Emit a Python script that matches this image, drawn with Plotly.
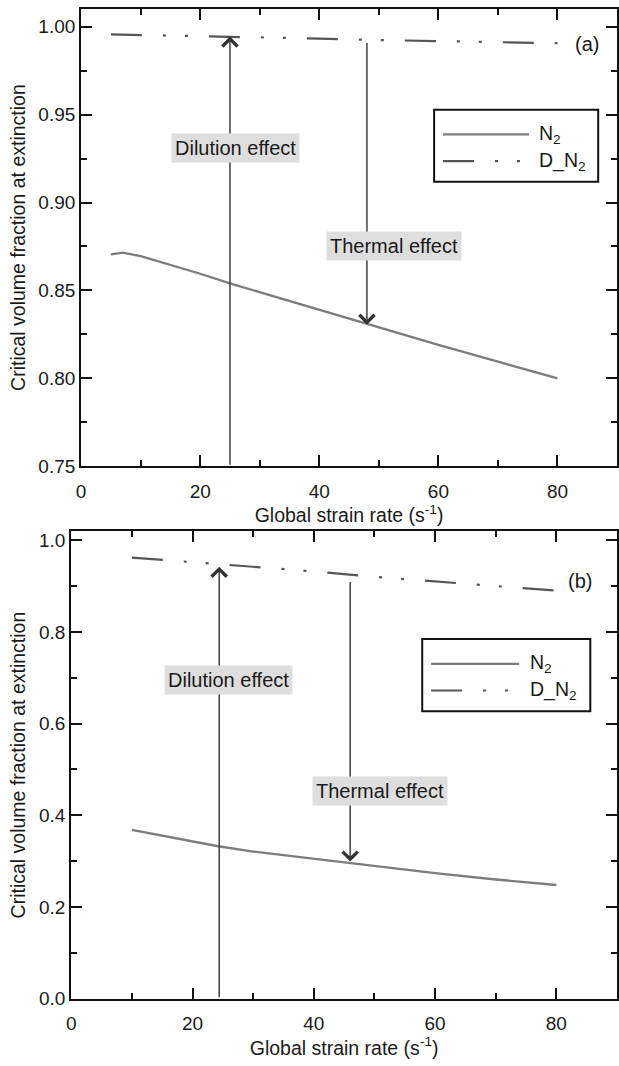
import plotly.graph_objects as go

# ---- data ----
a_x_n2 = [5, 7, 10, 15, 20, 25, 30, 40, 50, 60, 70, 80]
a_y_n2 = [0.8705, 0.8715, 0.8695, 0.8645, 0.8595, 0.8540, 0.8490, 0.8390, 0.8290, 0.8190, 0.8095, 0.8000]
a_x_dn2 = [5, 10, 20, 30, 40, 50, 60, 70, 80]
a_y_dn2 = [0.9956, 0.9953, 0.9947, 0.9940, 0.9932, 0.9924, 0.9918, 0.9912, 0.9906]

b_x_n2 = [10, 20, 24, 30, 40, 46, 50, 60, 70, 80]
b_y_n2 = [0.368, 0.343, 0.333, 0.321, 0.305, 0.297, 0.290, 0.274, 0.260, 0.248]
b_x_dn2 = [10, 20, 30, 40, 50, 60, 70, 80]
b_y_dn2 = [0.962, 0.952, 0.942, 0.932, 0.920, 0.910, 0.901, 0.890]

series_names = ["N<sub>2</sub>", "D_N<sub>2</sub>"]
x_title = "Global strain rate (s<sup>-1</sup>)"
y_title = "Critical volume fraction at extinction"
panel_labels = ["(a)", "(b)"]

FONT = "Liberation Sans, Arial, sans-serif"
N2_COLOR = "#7c7c7c"
DN2_COLOR = "#555555"
DASH = "31px,21px,3px,19px,3px,21px"
ARROW_COLOR = "#333333"
BOX_BG = "#dedede"
TXT = "#1a1a1a"

fig = go.Figure()
fig.add_trace(go.Scatter(x=a_x_n2, y=a_y_n2, mode="lines", name=series_names[0],
                         line=dict(color=N2_COLOR, width=2.3), xaxis="x", yaxis="y", showlegend=False))
fig.add_trace(go.Scatter(x=a_x_dn2, y=a_y_dn2, mode="lines", name=series_names[1],
                         line=dict(color=DN2_COLOR, width=2.2, dash=DASH), xaxis="x", yaxis="y", showlegend=False))
fig.add_trace(go.Scatter(x=b_x_n2, y=b_y_n2, mode="lines", name=series_names[0],
                         line=dict(color=N2_COLOR, width=2.3), xaxis="x2", yaxis="y2", showlegend=False))
fig.add_trace(go.Scatter(x=b_x_dn2, y=b_y_dn2, mode="lines", name=series_names[1],
                         line=dict(color=DN2_COLOR, width=2.2, dash=DASH), xaxis="x2", yaxis="y2", showlegend=False))

axis_common = dict(
    showline=True, linecolor="#111", linewidth=2, mirror="allticks",
    ticks="inside", ticklen=11, tickwidth=2, tickcolor="#111",
    showgrid=False, zeroline=False,
    tickfont=dict(family=FONT, size=19, color=TXT),
)

def xaxis(domain, anchor):
    d = dict(axis_common)
    d.update(domain=domain, anchor=anchor, range=[0, 90], dtick=20, tick0=0,
             ticklabelstandoff=7,
             minor=dict(ticks="inside", ticklen=6, tickwidth=2, tickcolor="#111", dtick=10, tick0=0),
             title=dict(text=x_title, font=dict(family=FONT, size=19.5, color=TXT), standoff=4))
    return d

def yaxis(domain, anchor, rng, dtick, minor_dtick, fmt, standoff):
    d = dict(axis_common)
    d.update(domain=domain, anchor=anchor, range=rng, dtick=dtick, tick0=0, tickformat=fmt,
             minor=dict(ticks="inside", ticklen=6, tickwidth=2, tickcolor="#111", dtick=minor_dtick, tick0=0),
             title=dict(text=y_title, font=dict(family=FONT, size=19.5, color=TXT), standoff=standoff))
    return d

fig.update_layout(
    width=619, height=1066,
    margin=dict(l=0, r=0, t=0, b=0),
    paper_bgcolor="white", plot_bgcolor="white",
    font=dict(family=FONT, color=TXT),
    xaxis=xaxis([77 / 619, 1.0], "y"),
    yaxis=yaxis([1 - 470 / 1066, 1 - 7 / 1066], "x", [0.75, 1.0101], 0.05, 0.025, ".2f", 8),
    xaxis2=xaxis([67 / 619, 1.0], "y2"),
    yaxis2=yaxis([1 - 1009 / 1066, 1 - 536 / 1066], "x2", [0, 1.019], 0.2, 0.1, ".1f", 8),
)

annotations = []
# arrows (drawn first so label boxes sit on top)
arrows = [
    ("x", "y", 25, 0.9944, 25, 0.75),
    ("x", "y", 48, 0.8305, 48, 0.9916),
    ("x2", "y2", 24.4, 0.942, 24.4, 0.0),
    ("x2", "y2", 46, 0.299, 46, 0.912),
]
for xr, yr, x, y, ax, ay in arrows:
    annotations.append(dict(xref=xr, yref=yr, x=x, y=y, axref=xr, ayref=yr, ax=ax, ay=ay,
                            text="", showarrow=True, arrowhead=4, arrowsize=2.1, arrowwidth=1.4,
                            arrowcolor=ARROW_COLOR))
labels = [
    ("x", "y", 25.9, 0.931, "Dilution effect"),
    ("x", "y", 52.5, 0.8753, "Thermal effect"),
    ("x2", "y2", 25.9, 0.695, "Dilution effect"),
    ("x2", "y2", 50.9, 0.454, "Thermal effect"),
]
for xr, yr, x, y, t in labels:
    annotations.append(dict(xref=xr, yref=yr, x=x, y=y, text=t, showarrow=False,
                            bgcolor=BOX_BG, borderpad=3,
                            font=dict(family=FONT, size=20, color=TXT)))
annotations.append(dict(xref="x", yref="y", x=84.9, y=0.990, text=panel_labels[0], showarrow=False,
                        font=dict(family=FONT, size=20, color=TXT)))
annotations.append(dict(xref="x2", yref="y2", x=83.9, y=0.910, text=panel_labels[1], showarrow=False,
                        font=dict(family=FONT, size=20, color=TXT)))

# manual legends (box, sample lines, labels) in axis-domain coordinates
shapes = []
legends = [
    # xr, yr, box x0,x1,y0,y1, sample x0,x1, y_n2, y_dn2, text x
    ("x domain", "y domain", 0.6587, 0.9649, 0.622, 0.7797, 0.6753, 0.8358, 0.7257, 0.6674, 0.8506),
    ("x2 domain", "y2 domain", 0.6431, 0.9511, 0.6152, 0.7696, 0.6594, 0.8207, 0.7167, 0.6596, 0.837),
]
for xr, yr, bx0, bx1, by0, by1, sx0, sx1, yn, yd, tx in legends:
    shapes.append(dict(type="rect", xref=xr, yref=yr, x0=bx0, x1=bx1, y0=by0, y1=by1,
                       line=dict(color="#111", width=2), fillcolor="rgba(0,0,0,0)"))
    shapes.append(dict(type="line", xref=xr, yref=yr, x0=sx0, x1=sx1, y0=yn, y1=yn,
                       line=dict(color=N2_COLOR, width=2.3)))
    shapes.append(dict(type="line", xref=xr, yref=yr, x0=sx0, x1=sx1, y0=yd, y1=yd,
                       line=dict(color=DN2_COLOR, width=2.2, dash=DASH)))
    annotations.append(dict(xref=xr, yref=yr, x=tx, y=yn, text=series_names[0], showarrow=False,
                            xanchor="left", yanchor="middle", font=dict(family=FONT, size=19.5, color=TXT)))
    annotations.append(dict(xref=xr, yref=yr, x=tx, y=yd, text=series_names[1], showarrow=False,
                            xanchor="left", yanchor="middle", font=dict(family=FONT, size=19.5, color=TXT)))

fig.update_layout(annotations=annotations, shapes=shapes)
fig.write_html("out.html")
